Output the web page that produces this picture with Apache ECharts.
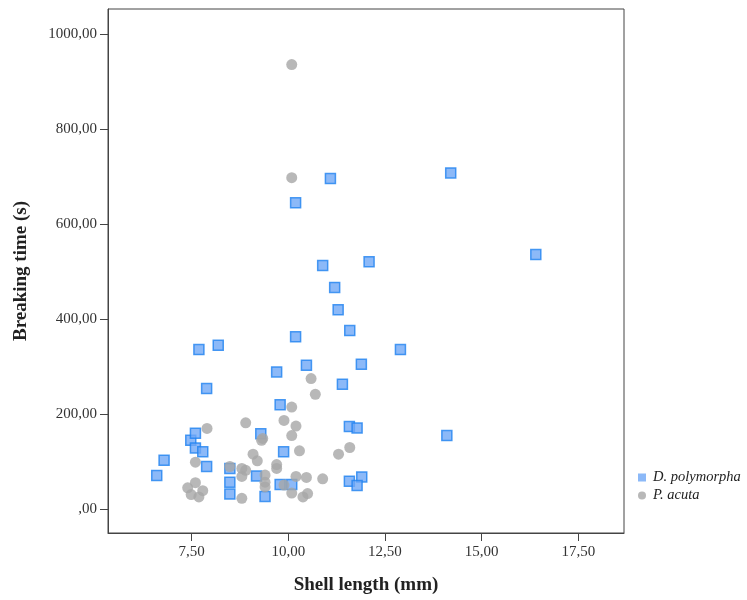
<!DOCTYPE html>
<html>
<head>
<meta charset="utf-8">
<script src="https://cdn.jsdelivr.net/npm/echarts@6/dist/echarts.min.js"></script>
<style>
html,body{margin:0;padding:0;background:#fff;}
#chart{width:747px;height:600px;}
</style>
</head>
<body>
<div id="chart"></div>
<script>
var seriesNames = ['D. polymorpha', 'P. acuta'];
var xTicks = [7.5, 10, 12.5, 15, 17.5];
var yTicks = [0, 200, 400, 600, 800, 1000];

var polyLength = [6.60, 6.79, 7.48, 7.60, 7.60, 7.79, 7.89, 7.89, 7.69, 8.19,
  8.49, 8.49, 8.49, 9.18, 9.29, 9.40, 9.70, 9.79, 9.79, 9.88,
  10.09, 10.19, 10.19, 10.47, 10.89, 11.09, 11.20, 11.29, 11.40, 11.59,
  11.58, 11.78, 11.58, 11.90, 11.78, 11.89, 12.09, 12.90, 14.10, 14.20, 16.40];
var polyTime = [71, 103, 145, 160, 129, 121, 90, 254, 336, 345,
  86, 57, 32, 70, 159, 27, 289, 220, 52, 121,
  52, 363, 645, 303, 513, 696, 467, 420, 263, 376,
  174, 171, 59, 68, 50, 305, 521, 336, 155, 708, 536];

var acutaLength = [10.09, 10.09, 10.59, 10.70, 10.09, 9.89, 8.90, 10.20, 7.90, 10.09,
  9.34, 9.31, 11.59, 10.29, 11.30, 9.09, 9.20, 7.60, 9.70, 8.49,
  9.70, 8.80, 8.90, 8.80, 9.40, 10.20, 10.47, 10.89, 9.40, 9.40,
  7.60, 9.89, 7.40, 7.79, 10.09, 10.50, 7.49, 7.69, 10.38, 8.80];
var acutaTime = [936, 698, 275, 242, 215, 187, 182, 175, 170, 155,
  149, 145, 130, 123, 116, 116, 102, 99, 94, 90,
  86, 86, 82, 69, 72, 69, 67, 64, 57, 47,
  56, 51, 45, 39, 34, 33, 31, 26, 26, 23];

function zip(a, b) { return a.map(function (v, i) { return [v, b[i]]; }); }
function fmt(v) {
  var s = v.toFixed(2).replace('.', ',');
  return s.indexOf('0,') === 0 ? s.slice(1) : s;
}

var font = 'Liberation Serif';
var chart = echarts.init(document.getElementById('chart'), null, {renderer: 'canvas'});
chart.setOption({
  animation: false,
  backgroundColor: '#ffffff',
  grid: {
    left: 108, top: 9, right: 123, bottom: 65,
    show: true, borderColor: '#444', borderWidth: 1, backgroundColor: 'transparent'
  },
  legend: {
    orient: 'vertical',
    left: 633, top: 465,
    itemWidth: 8, itemHeight: 8, itemGap: 3,
    textStyle: {fontFamily: font, fontStyle: 'italic', fontSize: 14.5, lineHeight: 15,
      color: '#222', padding: [0, 0, 0, 2]},
    data: [
      {name: seriesNames[0], icon: 'rect', itemStyle: {borderWidth: 0}},
      {name: seriesNames[1], icon: 'circle'}
    ]
  },
  xAxis: {
    type: 'value',
    min: 5.34, max: 18.68,
    name: 'Shell length (mm)',
    nameLocation: 'middle',
    nameGap: 43,
    nameTextStyle: {fontFamily: font, fontWeight: 'bold', fontSize: 19, color: '#222'},
    axisLine: {show: true, onZero: false, lineStyle: {color: '#444', width: 1}},
    axisTick: {show: true, length: 8, customValues: xTicks, lineStyle: {color: '#444'}},
    axisLabel: {customValues: xTicks, margin: 12, formatter: fmt,
      fontFamily: font, fontSize: 15, color: '#333'},
    splitLine: {show: false}
  },
  yAxis: {
    type: 'value',
    min: -50, max: 1053,
    name: 'Breaking time (s)',
    nameLocation: 'middle',
    nameGap: 77,
    nameTextStyle: {fontFamily: font, fontWeight: 'bold', fontSize: 19, color: '#222'},
    axisLine: {show: true, onZero: false, lineStyle: {color: '#444', width: 1}},
    axisTick: {show: true, length: 8, customValues: yTicks, lineStyle: {color: '#444'}},
    axisLabel: {customValues: yTicks, margin: 11, formatter: fmt,
      fontFamily: font, fontSize: 15, color: '#333'},
    splitLine: {show: false}
  },
  series: [
    {
      name: seriesNames[0],
      type: 'scatter',
      symbol: 'rect',
      symbolSize: 10,
      itemStyle: {color: '#6fa7f6', borderColor: '#1f82f0', borderWidth: 1.5},
      data: zip(polyLength, polyTime)
    },
    {
      name: seriesNames[1],
      type: 'scatter',
      symbol: 'circle',
      symbolSize: 11,
      itemStyle: {color: '#a6a6a6'},
      data: zip(acutaLength, acutaTime)
    }
  ]
});
</script>
</body>
</html>
